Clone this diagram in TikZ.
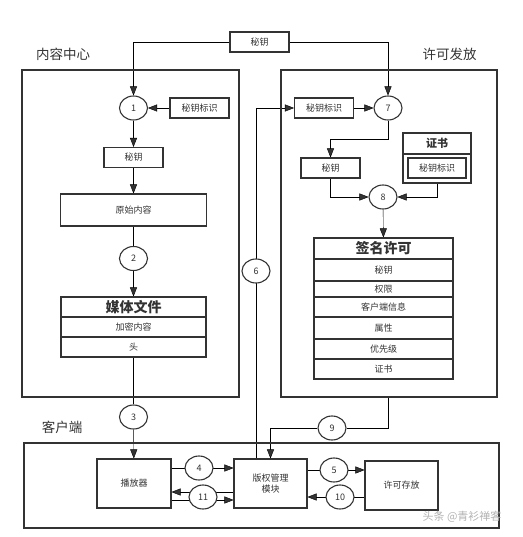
\documentclass[tikz,border=0pt]{standalone}
\usepackage{fontspec}
\setmainfont{Noto Sans CJK SC}
\usepackage{tikz}
\usetikzlibrary{positioning}
\usetikzlibrary{arrows.meta}
\usetikzlibrary{shapes.geometric,backgrounds}
\definecolor{linegray}{HTML}{333333}

\begin{document}
\begin{tikzpicture}[x=1pt,y=-1pt,line width=1.1pt,>={Triangle[length=9pt,width=7pt]},
   box/.style={draw=linegray,fill=white,rectangle,inner sep=0pt,text=linegray,font=\fontsize{9}{11}\selectfont},
   kbox/.style={box,minimum width=59pt,minimum height=20pt},
   head/.style={box,font=\bfseries\fontsize{14}{16}\selectfont},
   num/.style={draw=linegray,fill=white,ellipse,minimum width=28pt,minimum height=24pt,inner sep=0pt,text=linegray,font=\fontsize{9}{11}\selectfont},
   area/.style={draw=linegray,rectangle,inner sep=0pt},
   grouptitle/.style={text=linegray,font=\fontsize{13.5}{15}\selectfont}]
   \useasboundingbox (0,0) rectangle (522,537);
   % three areas
   \node[area,minimum width=217pt,minimum height=327pt] (cc) at (130.5,233.5) {};
   \node[area,minimum width=216pt,minimum height=327pt] (lic) at (389,233.5) {};
   \node[area,minimum width=475pt,minimum height=85pt] (client) at (261.5,485.5) {};
   \node[grouptitle] (cclabel) at (63,54) {内容中心};
   \node[grouptitle] (liclabel) at (449.5,54) {许可发放};
   \node[grouptitle] (clientlabel) at (62,427) {客户端};
   % content center
   \node[kbox] (keytop) at (259.5,42) {秘钥};
   \node[num] (e1) at (133.5,108) {1};
   \node[kbox] (kid1) at (199.5,108) {秘钥标识};
   \node[kbox] (key1) at (133.5,157.5) {秘钥};
   \node[box,minimum width=146pt,minimum height=32pt] (raw) at (133.5,210) {原始内容};
   \node[num] (e2) at (133.5,258.5) {2};
   \node[head,minimum width=145pt,minimum height=20pt] (mf0) at (133.5,307) {媒体文件};
   \node[box,minimum width=145pt,minimum height=20pt] (mf1) at (133.5,327) {加密内容};
   \node[box,minimum width=145pt,minimum height=20pt] (mf2) at (133.5,347) {头};
   \node[num] (e3) at (133.5,417) {3};
   % license issuing
   \node[kbox] (kid2) at (324,108) {秘钥标识};
   \node[num] (e7) at (388,108) {7};
   \node[kbox] (key2) at (330.5,168) {秘钥};
   \node[box,minimum width=68pt,minimum height=50pt] (cert) at (437,158) {};
   \node[box,minimum width=68pt,minimum height=21pt,font=\bfseries\fontsize{11}{13}\selectfont] (certhead) at (437,143.5) {证书};
   \node[box,minimum width=58pt,minimum height=20pt] (kid3) at (437,168) {秘钥标识};
   \node[num] (e8) at (383,197) {8};
   \node[head,minimum width=139pt,minimum height=21pt] (sl0) at (383.5,248.5) {签名许可};
   \foreach \y/\h/\t [count=\i] in {270/22/秘钥,289/16/权限,307/20/客户端信息,328/22/属性,349/20/优先级,369/20/证书}
      \node[box,minimum width=139pt,minimum height=\h pt] (sl\i) at (383.5,\y) {\t};
   \node[num] (e6) at (256,271) {6};
   \node[num] (e9) at (332,428) {9};
   % client
   \node[box,minimum width=74pt,minimum height=49pt] (player) at (134,483.5) {播放器};
   \node[box,minimum width=73pt,minimum height=49pt,align=center] (drm) at (270.5,483.5) {版权管理\\模块};
   \node[box,minimum width=73pt,minimum height=49pt] (store) at (401.5,485.5) {许可存放};
   \node[num] (e4) at (199,468) {4};
   \node[num] (e11) at (203,497) {11};
   \node[num] (e5) at (334,470) {5};
   \node[num] (e10) at (340,497) {10};
   \coordinate (r11a) at (0,492);
   \coordinate (r11b) at (0,500);
   \node[text=gray!60,font=\fontsize{11}{13}\selectfont] (mark) at (462,517) {头条 @青衫禅客};
   \begin{scope}[on background layer,draw=linegray]
    \draw[->] (keytop.west) -| (e1.north);
    \draw[->] (keytop.east) -| (e7.north);
    \path[->] 
    (kid1) edge (e1)
    (e1) edge (key1)
    (key1) edge (raw)
    (e2) edge (mf0)
    (e3) edge (player)
    (kid2) edge (e7)
    (e8) edge (sl0);
    \draw (raw) -- (e2);
    \draw (mf2) -- (e3);
    \draw[->] (e7) -- ++(0,31) -| (key2);
    \draw[->] (key2) |- (e8);
    \draw[->] (cert) |- (e8);
    \draw[->] (drm.north -| e6) |- (kid2);
    \draw[->] (lic.south -| e7) |- (e9) -| (drm);
    \draw[->] (player.east |- e4) -- (drm.west |- e4);
    \draw[->] (drm.west |- r11a) -- (player.east |- r11a);
    \draw[->] (player.east |- r11b) -- (drm.west |- r11b);
    \draw[->] (drm.east |- e5) -- (store.west |- e5);
    \draw[->] (store.west |- e10) -- (drm.east |- e10);
   \end{scope}
\end{tikzpicture}
\end{document}
